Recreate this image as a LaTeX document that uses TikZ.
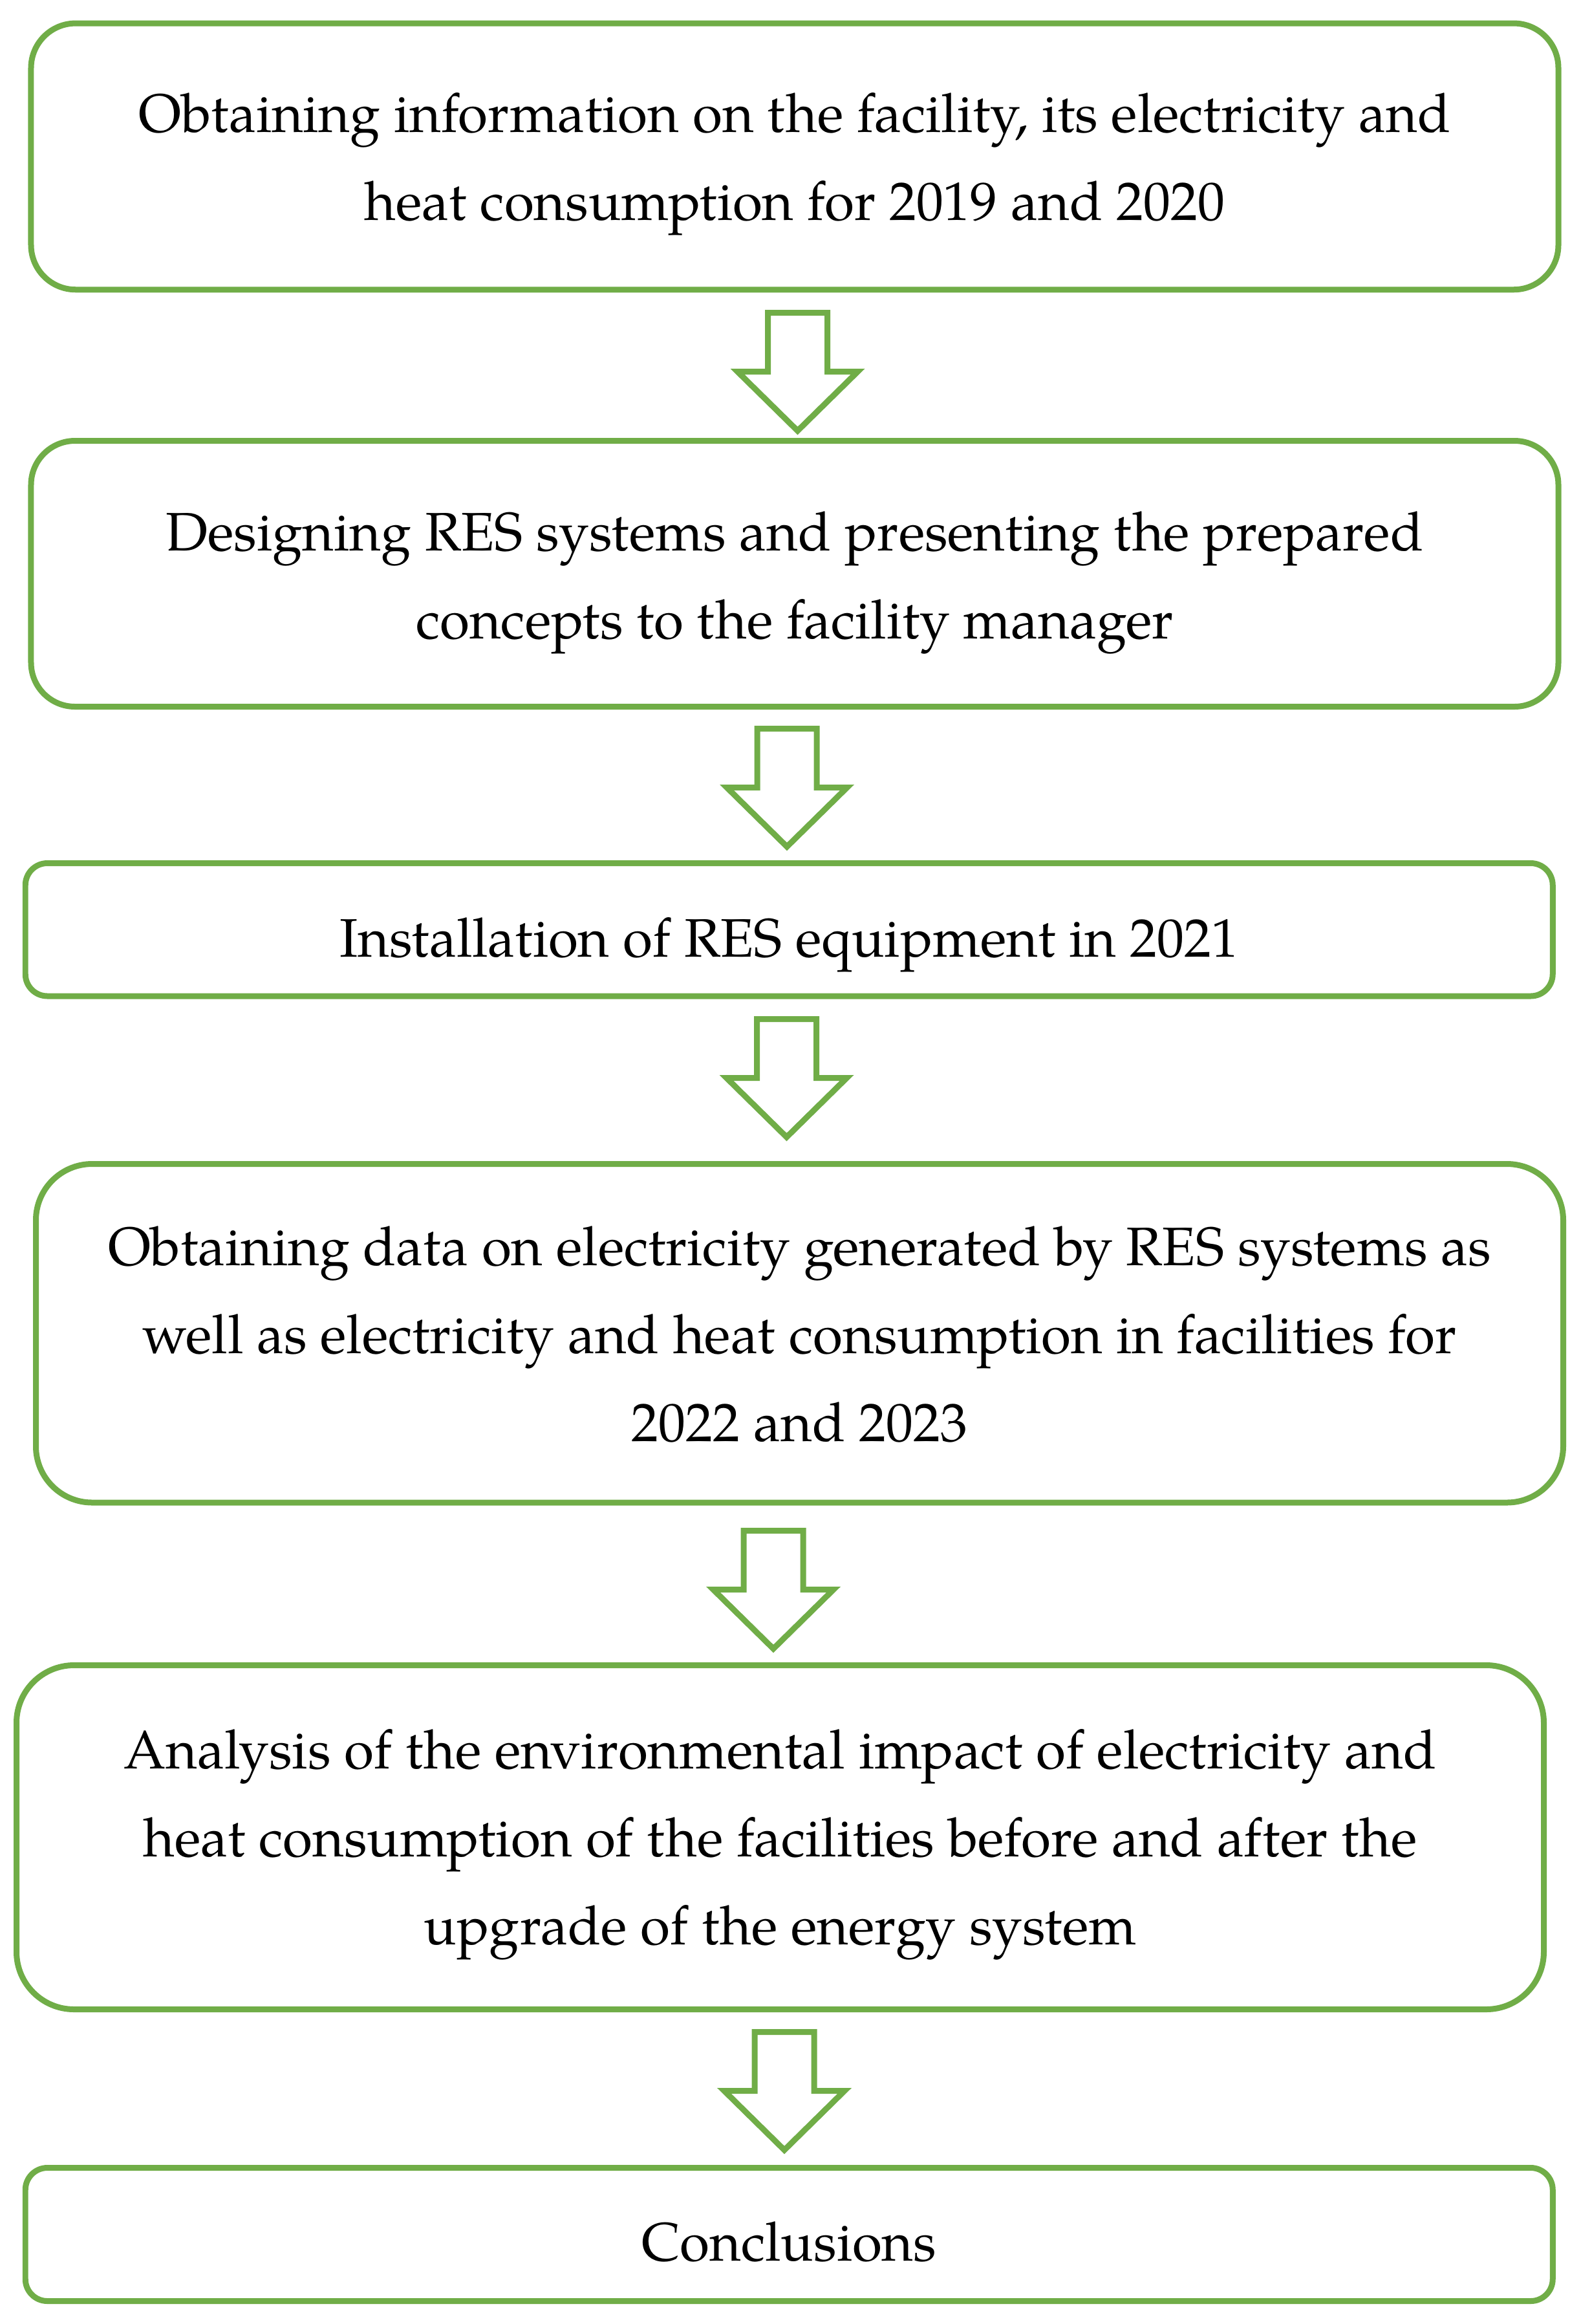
\documentclass[tikz,border=0pt]{standalone}
\usepackage{fontspec}
\setmainfont{texgyrepagella}[Extension=.otf, UprightFont=*-regular, BoldFont=*-bold, ItalicFont=*-italic, BoldItalicFont=*-bolditalic]
\definecolor{boxgreen}{HTML}{70AD47}
\tikzset{
  stepbox/.style={draw=boxgreen, line width=0.09cm, inner sep=0pt, minimum width=23.62cm},
  steptext/.style={inner sep=0pt, align=center, font=\fontsize{23.85}{38.7}\selectfont},
  arrowline/.style={draw=boxgreen, line width=0.09cm, miter limit=10, fill=white},
  downarrow/.pic={\path[arrowline] (-0.46,0) -- (0.46,0) -- (0.46,-0.91) -- (0.93,-0.91)
      -- (0,-1.825) -- (-0.93,-0.91) -- (-0.46,-0.91) -- cycle;}
}
\begin{document}
\begin{tikzpicture}
\useasboundingbox (0,0) rectangle (24.45,-35.93);
\fill[white] (0,0) rectangle (24.45,-35.93);

\node[stepbox, minimum height=4.117cm, rounded corners=0.69cm] (b1) at (12.29,-2.419) {};
\node[stepbox, minimum height=4.11cm, rounded corners=0.68cm] (b2) at (12.29,-8.87) {};
\node[stepbox, minimum height=2.055cm, rounded corners=0.34cm] (b3) at (12.2025,-14.3725) {};
\node[stepbox, minimum height=5.235cm, rounded corners=0.87cm] (b4) at (12.365,-20.6125) {};
\node[stepbox, minimum height=5.32cm, rounded corners=0.89cm] (b5) at (12.065,-28.405) {};
\node[stepbox, minimum height=2.06cm, rounded corners=0.34cm] (b6) at (12.2025,-34.545) {};

\node[steptext, yshift=-0.115cm] (t1) at (b1.center)
  {Obtaining information on the facility, its electricity and\\heat consumption for 2019 and 2020};
\node[steptext, yshift=-0.14cm] (t2) at (b2.center)
  {Designing RES systems and presenting the prepared\\concepts to the facility manager};
\node[steptext, yshift=-0.23cm] (t3) at (b3.center)
  {Installation of RES equipment in 2021};
\node[steptext, yshift=-0.02cm] (t4) at (b4.center)
  {Obtaining data on electricity generated by RES systems as\\well as electricity and heat consumption in facilities for\\2022 and 2023};
\node[steptext, yshift=-0.115cm] (t5) at (b5.center)
  {Analysis of the environmental impact of electricity and\\heat consumption of the facilities before and after the\\upgrade of the energy system};
\node[steptext, yshift=-0.115cm] (t6) at (b6.center)
  {Conclusions};

\coordinate (a1) at (12.335,-4.835);
\coordinate (a2) at (12.17,-11.265);
\coordinate (a3) at (12.165,-15.755);
\coordinate (a4) at (11.96,-23.665);
\coordinate (a5) at (12.13,-31.415);
\pic at (a1) {downarrow};
\pic at (a2) {downarrow};
\pic at (a3) {downarrow};
\pic at (a4) {downarrow};
\pic at (a5) {downarrow};
\end{tikzpicture}
\end{document}
